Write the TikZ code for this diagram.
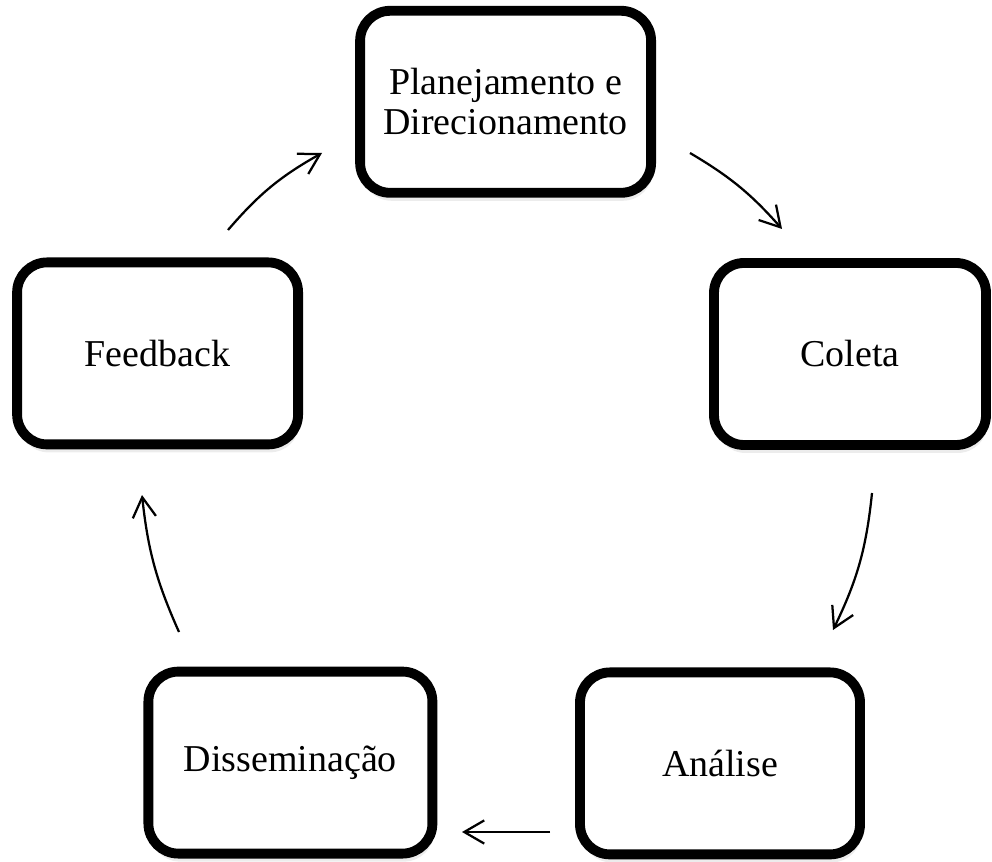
\documentclass[tikz,border=0pt]{standalone}
\usepackage{fontspec}
\setmainfont{Liberation Serif}
\usetikzlibrary{arrows.meta,shadows}
\begin{document}
\begin{tikzpicture}[
    etapa/.style={draw, line width=7pt, rounded corners=0.75cm, fill=white,
        minimum height=4.55cm, align=center, font=\fontsize{27}{28.5}\selectfont,
        drop shadow={shadow xshift=0.04cm, shadow yshift=-0.2cm, opacity=0.15}},
    ciclo/.style={line width=1.6pt, -{Straight Barb[length=0.5cm, width=0.58cm]}}
]
\useasboundingbox (0,0) rectangle (24.8,21.525);

\node[etapa, minimum width=7.275cm] (plan) at (12.64,18.98) {Planejamento e\\Direcionamento};
\node[etapa, minimum width=6.8cm] (coleta) at (21.25,12.675) {Coleta};
\node[etapa, minimum width=7cm] (analise) at (18.0,2.44) {Análise};
\node[etapa, minimum width=7.1cm] (dissem) at (7.26,2.46) {Disseminação};
\node[etapa, minimum width=7.025cm] (feedback) at (3.94,12.69) {Feedback};

\coordinate (fb-a) at (5.7,15.775);
\coordinate (pl-b) at (8.05,17.7);
\coordinate (pl-a) at (17.25,17.7);
\coordinate (co-b) at (19.55,15.8);
\coordinate (co-a) at (21.8,9.2);
\coordinate (an-b) at (20.825,5.775);
\coordinate (an-a) at (13.75,0.725);
\coordinate (di-b) at (11.55,0.725);
\coordinate (di-a) at (4.475,5.725);
\coordinate (fb-b) at (3.55,9.15);

\draw[ciclo] (fb-a) to[bend left=10] (pl-b);
\draw[ciclo] (pl-a) to[bend left=9] (co-b);
\draw[ciclo] (co-a) to[bend left=10] (an-b);
\draw[ciclo] (an-a) -- (di-b);
\draw[ciclo] (di-a) to[bend left=9] (fb-b);
\end{tikzpicture}
\end{document}
